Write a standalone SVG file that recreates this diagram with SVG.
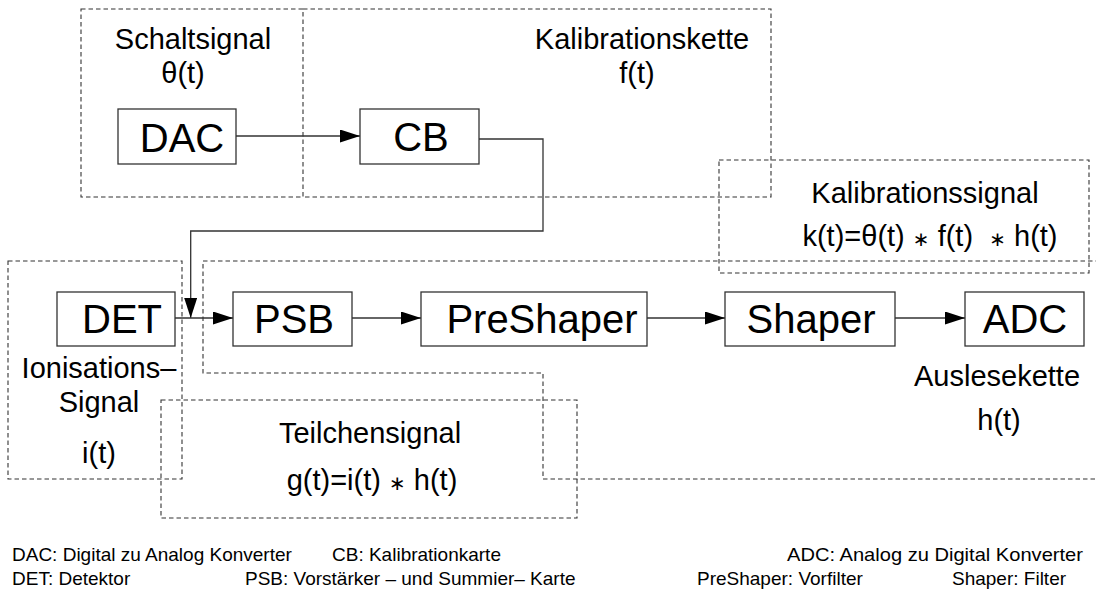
<svg xmlns="http://www.w3.org/2000/svg" width="1096" height="596" viewBox="0 0 1096 596">
<style>
.grp{fill:none;stroke:#333;stroke-width:1.1;stroke-dasharray:4.5 3}
.box{fill:#fff;stroke:#333;stroke-width:1.3}
.wire{fill:none;stroke:#333;stroke-width:1.3}
text{font-family:"Liberation Sans",Arial,"DejaVu Sans",sans-serif;fill:#000}
.lbl{font-size:40px;text-anchor:middle}
.cap{font-size:29px;text-anchor:middle}
.ast{font-size:20px}
.leg{font-size:19px}
</style>
<defs>
<marker id="arr" markerUnits="userSpaceOnUse" markerWidth="21" markerHeight="14" refX="20" refY="6.5" orient="auto">
<path d="M0,0 L20,6.5 L0,13 Z" fill="#000"/>
</marker>
</defs>
<rect width="1096" height="596" fill="#fff"/>
<g id="groups">
<g id="grp-schaltsignal">
<rect class="grp" x="81" y="9" width="222" height="188"/>
<text class="cap" x="193" y="49">Schaltsignal</text>
<text class="cap" x="183" y="83">θ(t)</text>
</g>
<g id="grp-kalibrationskette">
<path class="grp" d="M303,9 H771 V197 H303"/>
<text class="cap" x="642" y="49">Kalibrationskette</text>
<text class="cap" x="637" y="83">f(t)</text>
</g>
<g id="grp-kalibrationssignal">
<rect class="grp" x="719" y="160" width="370" height="113"/>
<text class="cap" x="925" y="203">Kalibrationssignal</text>
<text class="cap" x="930" y="246" xml:space="preserve">k(t)=θ(t) <tspan class="ast">∗</tspan> f(t)  <tspan class="ast">∗</tspan> h(t)</text>
</g>
<g id="grp-auslesekette">
<path class="grp" d="M1100,261 H203 V373 H543 V479 H1100"/>
<text class="cap" x="997" y="386">Auslesekette</text>
<text class="cap" x="999" y="430">h(t)</text>
</g>
<g id="grp-ionisation">
<rect class="grp" x="8" y="261" width="174" height="218"/>
<text class="cap" x="99" y="378">Ionisations–</text>
<text class="cap" x="99" y="412">Signal</text>
<text class="cap" x="99" y="463">i(t)</text>
</g>
<g id="grp-teilchensignal">
<rect class="grp" x="161" y="400" width="416" height="118"/>
<text class="cap" x="370" y="443">Teilchensignal</text>
<text class="cap" x="372" y="490">g(t)=i(t) <tspan class="ast">∗</tspan> h(t)</text>
</g>
</g>
<g id="connectors">
<path class="wire" d="M236,136 H360" marker-end="url(#arr)"/>
<path class="wire" d="M479,139 H543 V231 H190.7 V318" marker-end="url(#arr)"/>
<path class="wire" d="M175,318 H233" marker-end="url(#arr)"/>
<path class="wire" d="M352,318 H421" marker-end="url(#arr)"/>
<path class="wire" d="M647,318 H725" marker-end="url(#arr)"/>
<path class="wire" d="M895,318 H965" marker-end="url(#arr)"/>
</g>
<g id="DAC"><rect class="box" x="118" y="109" width="118" height="55"/><text class="lbl" x="182" y="152">DAC</text></g>
<g id="CB"><rect class="box" x="360" y="109" width="119" height="55"/><text class="lbl" x="421" y="151">CB</text></g>
<g id="DET"><rect class="box" x="57" y="292" width="118" height="54"/><text class="lbl" x="122" y="333">DET</text></g>
<g id="PSB"><rect class="box" x="233" y="292" width="119" height="54"/><text class="lbl" x="294" y="333">PSB</text></g>
<g id="PreShaper"><rect class="box" x="421" y="292" width="226" height="54"/><text class="lbl" x="542" y="333">PreShaper</text></g>
<g id="Shaper"><rect class="box" x="725" y="292" width="170" height="54"/><text class="lbl" x="811" y="333">Shaper</text></g>
<g id="ADC"><rect class="box" x="965" y="292" width="119" height="54"/><text class="lbl" x="1025" y="333">ADC</text></g>
<g id="legend">
<text class="leg" x="12" y="561">DAC: Digital zu Analog Konverter</text>
<text class="leg" x="332" y="561">CB: Kalibrationkarte</text>
<text class="leg" x="787" y="561" textLength="296" lengthAdjust="spacingAndGlyphs">ADC: Analog zu Digital Konverter</text>
<text class="leg" x="12" y="585">DET: Detektor</text>
<text class="leg" x="245" y="585">PSB: Vorstärker – und Summier– Karte</text>
<text class="leg" x="697" y="585">PreShaper: Vorfilter</text>
<text class="leg" x="952" y="585">Shaper: Filter</text>
</g>
</svg>
